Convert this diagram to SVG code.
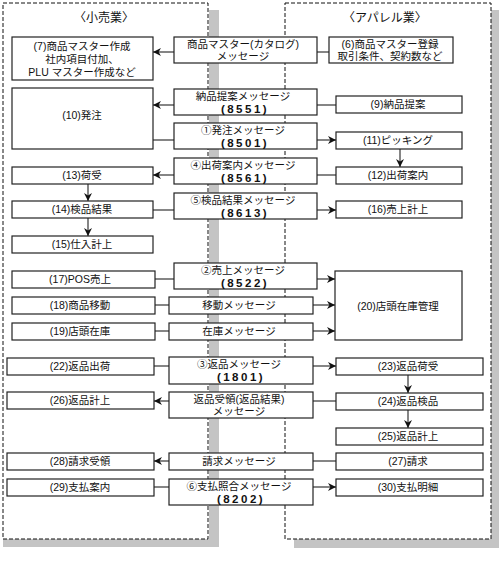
<svg xmlns="http://www.w3.org/2000/svg" width="500" height="572" viewBox="0 0 500 572">
<defs>
<style>
.bg{fill:#fff}
.sh{fill:#c4c4c4}
.frame{fill:none;stroke:#111;stroke-width:1;stroke-dasharray:4 2}
.box{fill:#fff;stroke:#222;stroke-width:1.2}
.c{fill:none;stroke:#222;stroke-width:1.1}
.t{font-family:"Liberation Sans","Noto Sans CJK JP","Noto Sans CJK SC",sans-serif;font-size:10.5px;text-anchor:middle;fill:#111}
.ttl{font-family:"Liberation Sans","Noto Sans CJK JP","Noto Sans CJK SC",sans-serif;font-size:12px;text-anchor:middle;fill:#111}
.n{font-family:"Liberation Sans",Arial,sans-serif;font-size:11.5px;font-weight:bold;letter-spacing:2.5px;text-anchor:middle;fill:#111}
</style>
<marker id="ah" viewBox="0 0 10 10" refX="10" refY="5" markerWidth="9" markerHeight="8" orient="auto" markerUnits="userSpaceOnUse">
<path d="M0,0 L10,5 L0,10 L3,5 z" fill="#111"/>
</marker>
</defs>
<rect class="bg" x="0" y="0" width="500" height="572"/>
<g id="containers">
<rect class="sh" x="209" y="10" width="10" height="537"/>
<rect class="sh" x="3" y="539" width="216" height="8"/>
<rect class="sh" x="491" y="10" width="8" height="538"/>
<rect class="sh" x="294" y="539" width="205" height="9"/>
<rect class="frame" x="3" y="3" width="205" height="536"/>
<rect class="frame" x="285" y="3" width="206" height="536"/>
<text class="ttl" x="104" y="22">〈小売業〉</text>
<text class="ttl" x="385" y="22">〈アパレル業〉</text>
</g>
<g id="connectors">
<path class="c" d="M174,52 H153" marker-end="url(#ah)"/>
<path class="c" d="M317,52 H329"/>
<path class="c" d="M174,105 H153" marker-end="url(#ah)"/>
<path class="c" d="M317,105 H336"/>
<path class="c" d="M153,140 H174"/>
<path class="c" d="M317,140 H336" marker-end="url(#ah)"/>
<path class="c" d="M400,149 V167" marker-end="url(#ah)"/>
<path class="c" d="M174,175 H153" marker-end="url(#ah)"/>
<path class="c" d="M317,175 H336"/>
<path class="c" d="M88,184 V201" marker-end="url(#ah)"/>
<path class="c" d="M153,210 H174"/>
<path class="c" d="M317,210 H336" marker-end="url(#ah)"/>
<path class="c" d="M88,218 V236" marker-end="url(#ah)"/>
<path class="c" d="M155,279 H174"/>
<path class="c" d="M317,279 H335" marker-end="url(#ah)"/>
<path class="c" d="M155,305 H169"/>
<path class="c" d="M313,305 H335" marker-end="url(#ah)"/>
<path class="c" d="M155,331 H169"/>
<path class="c" d="M313,331 H335" marker-end="url(#ah)"/>
<path class="c" d="M154,366 H169"/>
<path class="c" d="M313,366 H336" marker-end="url(#ah)"/>
<path class="c" d="M408,375 V393" marker-end="url(#ah)"/>
<path class="c" d="M169,401 H154" marker-end="url(#ah)"/>
<path class="c" d="M313,401 H336"/>
<path class="c" d="M408,410 V428" marker-end="url(#ah)"/>
<path class="c" d="M169,461 H154" marker-end="url(#ah)"/>
<path class="c" d="M313,461 H336"/>
<path class="c" d="M154,487 H169"/>
<path class="c" d="M313,487 H336" marker-end="url(#ah)"/>
</g>
<g id="n7"><rect class="box" x="12" y="37" width="141" height="43"/><text class="t" x="82" y="50">(7)商品マスター作成</text><text class="t" x="82" y="63">社内項目付加、</text><text class="t" x="82" y="76">PLU マスター作成など</text></g>
<g id="n10"><rect class="box" x="12" y="88" width="141" height="61"/><text class="t" x="82" y="119">(10)発注</text></g>
<g id="n13"><rect class="box" x="12" y="167" width="141" height="17"/><text class="t" x="82" y="179">(13)荷受</text></g>
<g id="n14"><rect class="box" x="12" y="201" width="141" height="17"/><text class="t" x="82" y="213">(14)検品結果</text></g>
<g id="n15"><rect class="box" x="12" y="236" width="141" height="17"/><text class="t" x="82" y="248">(15)仕入計上</text></g>
<g id="n17"><rect class="box" x="12" y="271" width="143" height="17"/><text class="t" x="80" y="283">(17)POS売上</text></g>
<g id="n18"><rect class="box" x="12" y="297" width="143" height="17"/><text class="t" x="80" y="309">(18)商品移動</text></g>
<g id="n19"><rect class="box" x="12" y="323" width="143" height="17"/><text class="t" x="80" y="335">(19)店頭在庫</text></g>
<g id="n22"><rect class="box" x="7" y="358" width="147" height="17"/><text class="t" x="80" y="370">(22)返品出荷</text></g>
<g id="n26"><rect class="box" x="7" y="392" width="147" height="17"/><text class="t" x="80" y="404">(26)返品計上</text></g>
<g id="n28"><rect class="box" x="7" y="453" width="147" height="17"/><text class="t" x="80" y="465">(28)請求受領</text></g>
<g id="n29"><rect class="box" x="7" y="479" width="147" height="17"/><text class="t" x="80" y="491">(29)支払案内</text></g>
<g id="m1"><rect class="box" x="174" y="37" width="143" height="26"/><text class="t" x="243" y="48">商品マスター(カタログ)</text><text class="t" x="243" y="60">メッセージ</text></g>
<g id="m2"><rect class="box" x="174" y="89" width="143" height="26"/><text class="t" x="243" y="100">納品提案メッセージ</text><text class="n" x="245" y="113">(8551)</text></g>
<g id="m3"><rect class="box" x="174" y="123" width="143" height="26"/><text class="t" x="243" y="134">①発注メッセージ</text><text class="n" x="245" y="147">(8501)</text></g>
<g id="m4"><rect class="box" x="174" y="158" width="143" height="26"/><text class="t" x="243" y="169">④出荷案内メッセージ</text><text class="n" x="245" y="182">(8561)</text></g>
<g id="m5"><rect class="box" x="174" y="193" width="143" height="26"/><text class="t" x="243" y="204">⑤検品結果メッセージ</text><text class="n" x="245" y="217">(8613)</text></g>
<g id="m6"><rect class="box" x="174" y="263" width="143" height="26"/><text class="t" x="243" y="274">②売上メッセージ</text><text class="n" x="245" y="287">(8522)</text></g>
<g id="m7"><rect class="box" x="169" y="297" width="144" height="17"/><text class="t" x="239" y="309">移動メッセージ</text></g>
<g id="m8"><rect class="box" x="169" y="323" width="144" height="17"/><text class="t" x="239" y="335">在庫メッセージ</text></g>
<g id="m9"><rect class="box" x="169" y="357" width="144" height="27"/><text class="t" x="239" y="368">③返品メッセージ</text><text class="n" x="241" y="381">(1801)</text></g>
<g id="m10"><rect class="box" x="169" y="392" width="144" height="26"/><text class="t" x="239" y="403">返品受領(返品結果)</text><text class="t" x="239" y="415">メッセージ</text></g>
<g id="m11"><rect class="box" x="169" y="453" width="144" height="17"/><text class="t" x="239" y="465">請求メッセージ</text></g>
<g id="m12"><rect class="box" x="169" y="479" width="144" height="26"/><text class="t" x="239" y="490">⑥支払照合メッセージ</text><text class="n" x="241" y="503">(8202)</text></g>
<g id="r6"><rect class="box" x="329" y="37" width="124" height="26"/><text class="t" x="390" y="48">(6)商品マスター登録</text><text class="t" x="390" y="60">取引条件、契約数など</text></g>
<g id="r9"><rect class="box" x="336" y="96" width="126" height="17"/><text class="t" x="398" y="108">(9)納品提案</text></g>
<g id="r11"><rect class="box" x="336" y="132" width="126" height="17"/><text class="t" x="398" y="144">(11)ピッキング</text></g>
<g id="r12"><rect class="box" x="336" y="167" width="126" height="17"/><text class="t" x="398" y="179">(12)出荷案内</text></g>
<g id="r16"><rect class="box" x="336" y="201" width="126" height="17"/><text class="t" x="398" y="213">(16)売上計上</text></g>
<g id="r20"><rect class="box" x="335" y="271" width="127" height="69"/><text class="t" x="398" y="310">(20)店頭在庫管理</text></g>
<g id="r23"><rect class="box" x="336" y="358" width="147" height="17"/><text class="t" x="408" y="370">(23)返品荷受</text></g>
<g id="r24"><rect class="box" x="336" y="393" width="147" height="17"/><text class="t" x="408" y="405">(24)返品検品</text></g>
<g id="r25"><rect class="box" x="336" y="428" width="147" height="17"/><text class="t" x="408" y="440">(25)返品計上</text></g>
<g id="r27"><rect class="box" x="336" y="453" width="147" height="17"/><text class="t" x="408" y="465">(27)請求</text></g>
<g id="r30"><rect class="box" x="336" y="479" width="147" height="17"/><text class="t" x="408" y="491">(30)支払明細</text></g>
</svg>
